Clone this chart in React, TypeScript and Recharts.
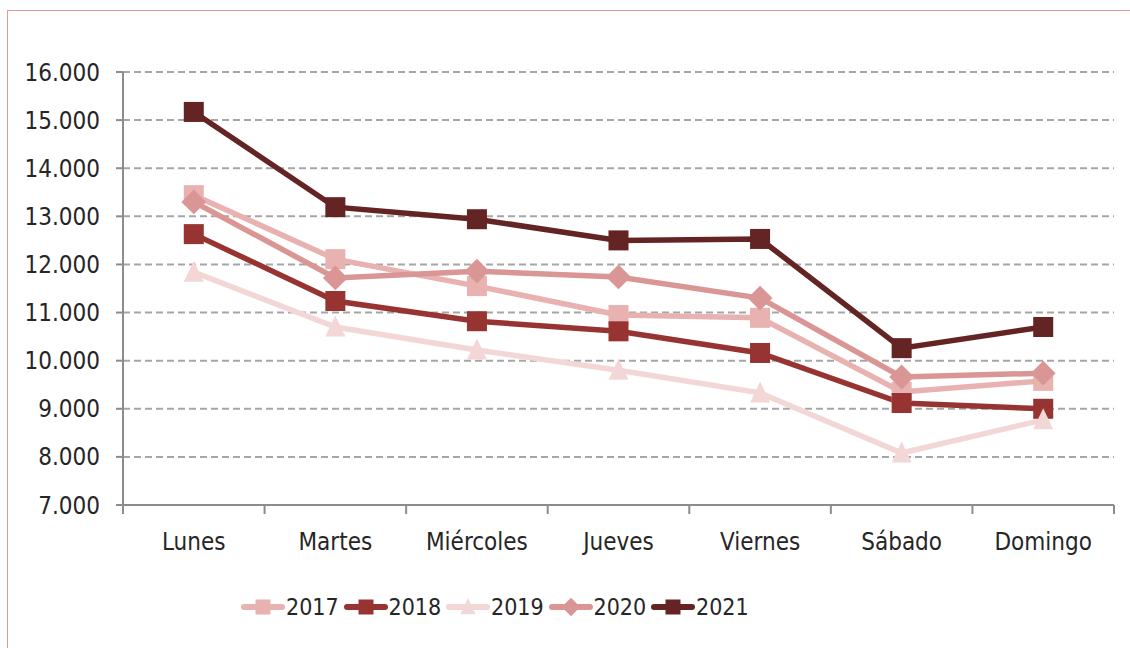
import { CartesianGrid, Legend, Line, LineChart, XAxis, YAxis } from "recharts";

const days = ["Lunes", "Martes", "Miércoles", "Jueves", "Viernes", "Sábado", "Domingo"];
const v2017 = [13440, 12110, 11550, 10950, 10890, 9350, 9580];
const v2018 = [12630, 11240, 10820, 10610, 10160, 9120, 9000];
const v2019 = [11840, 10700, 10220, 9800, 9330, 8080, 8770];
const v2020 = [13300, 11720, 11860, 11740, 11300, 9660, 9740];
const v2021 = [15170, 13190, 12940, 12500, 12530, 10260, 10700];
const yTicks = [7000, 8000, 9000, 10000, 11000, 12000, 13000, 14000, 15000, 16000];

const data = days.map((day, i) => ({
  day,
  y2017: v2017[i],
  y2018: v2018[i],
  y2019: v2019[i],
  y2020: v2020[i],
  y2021: v2021[i],
}));

type Shape = "square" | "triangle" | "diamond";

const series: { key: string; name: string; color: string; shape: Shape }[] = [
  { key: "y2017", name: "2017", color: "#e8b2b1", shape: "square" },
  { key: "y2018", name: "2018", color: "#973432", shape: "square" },
  { key: "y2019", name: "2019", color: "#f2d7d6", shape: "triangle" },
  { key: "y2020", name: "2020", color: "#d99694", shape: "diamond" },
  { key: "y2021", name: "2021", color: "#632423", shape: "square" },
];

const W = 1130;
const H = 648;
const MARGIN = { top: 72, right: 16, left: 23, bottom: 73 };
const Y_WIDTH = 100;
const PLOT_W = W - MARGIN.left - MARGIN.right - Y_WIDTH;
const STEP = PLOT_W / days.length;
const TICK_SIZE = 6;
const TICK_MARGIN = 22;

const FONT = "'Liberation Sans Narrow', 'DejaVu Sans Condensed', Lato, sans-serif";
const AXIS = "#8c8c8c";
const fmt = (v: number) => v.toLocaleString("de-DE", { minimumFractionDigits: 3 }).replace(",000", "");

function marker(shape: Shape, cx: number, cy: number, s: number, color: string, key?: string) {
  if (shape === "square") {
    return <rect key={key} x={cx - s / 2} y={cy - s / 2} width={s} height={s} fill={color} />;
  }
  if (shape === "triangle") {
    const h = s * 0.95;
    return (
      <polygon
        key={key}
        points={`${cx},${cy - h / 2 - 2} ${cx + s / 2},${cy + h / 2} ${cx - s / 2},${cy + h / 2}`}
        fill={color}
      />
    );
  }
  const r = s * 0.62;
  return (
    <polygon key={key} points={`${cx},${cy - r} ${cx + r},${cy} ${cx},${cy + r} ${cx - r},${cy}`} fill={color} />
  );
}

function makeDot(shape: Shape, color: string) {
  return (props: any) => {
    const { cx, cy, index } = props;
    if (cx == null || cy == null) return <g key={index} />;
    return marker(shape, cx, cy, 20, color, `d${index}`);
  };
}

// category label plus Excel-style tick marks between categories
function DayTick(props: any) {
  const { x, y, payload, index } = props;
  const axisY = y - TICK_SIZE - TICK_MARGIN;
  const left = x - STEP / 2;
  return (
    <g>
      <line x1={left} y1={axisY} x2={left} y2={axisY + 9} stroke={AXIS} strokeWidth={2} />
      {index === days.length - 1 && (
        <line x1={x + STEP / 2} y1={axisY} x2={x + STEP / 2} y2={axisY + 9} stroke={AXIS} strokeWidth={2} />
      )}
      <text x={x} y={y} dy="0.71em" textAnchor="middle" fill="#262626" fontSize={24} fontFamily={FONT}>
        {payload.value}
      </text>
    </g>
  );
}

function LegendContent() {
  return (
    <div style={{ display: "flex", fontFamily: FONT, fontSize: 23, color: "#262626", lineHeight: "30px" }}>
      {series.map((s) => (
        <div key={s.key} style={{ display: "flex", alignItems: "center", width: 102.5 }}>
          <svg width={44} height={24}>
            <line x1={3} y1={12} x2={41} y2={12} stroke={s.color} strokeWidth={6} strokeLinecap="round" />
            {marker(s.shape, 22, 12, 15, s.color)}
          </svg>
          <span style={{ marginLeft: 1 }}>{s.name}</span>
        </div>
      ))}
    </div>
  );
}

export default function App() {
  return (
    <div style={{ position: "fixed", left: 0, top: 0, width: W, height: H, background: "#fff" }}>
      <div
        style={{
          position: "absolute",
          left: 7,
          top: 10,
          width: 1140,
          height: 660,
          borderTop: "1px solid #e59a9a",
          borderLeft: "1px solid #e59a9a",
        }}
      />
      <div style={{ position: "absolute", left: 0, top: 0 }}>
        <LineChart width={W} height={H} data={data} margin={MARGIN}>
          <CartesianGrid vertical={false} stroke="#a6a6a6" strokeWidth={2} strokeDasharray="7 4" />
          <XAxis
            dataKey="day"
            padding={{ left: STEP / 2, right: STEP / 2 }}
            axisLine={{ stroke: AXIS, strokeWidth: 2 }}
            tickLine={false}
            tick={<DayTick />}
            tickSize={TICK_SIZE}
            tickMargin={TICK_MARGIN}
            interval={0}
            height={40}
          />
          <YAxis
            domain={[7000, 16000]}
            ticks={yTicks}
            tickFormatter={fmt}
            width={Y_WIDTH}
            axisLine={{ stroke: AXIS, strokeWidth: 2 }}
            tickLine={{ stroke: AXIS, strokeWidth: 2 }}
            tickSize={7}
            tickMargin={16}
            tick={{ fill: "#262626", fontSize: 24, fontFamily: FONT }}
          />
          <Legend
            verticalAlign="bottom"
            content={() => <LegendContent />}
            wrapperStyle={{ left: 241, top: 592, width: "auto", height: 30 }}
          />
          {series.map((s) => (
            <Line
              key={s.key}
              dataKey={s.key}
              name={s.name}
              stroke={s.color}
              strokeWidth={5.5}
              dot={makeDot(s.shape, s.color)}
              activeDot={false}
              isAnimationActive={false}
            />
          ))}
        </LineChart>
      </div>
    </div>
  );
}
